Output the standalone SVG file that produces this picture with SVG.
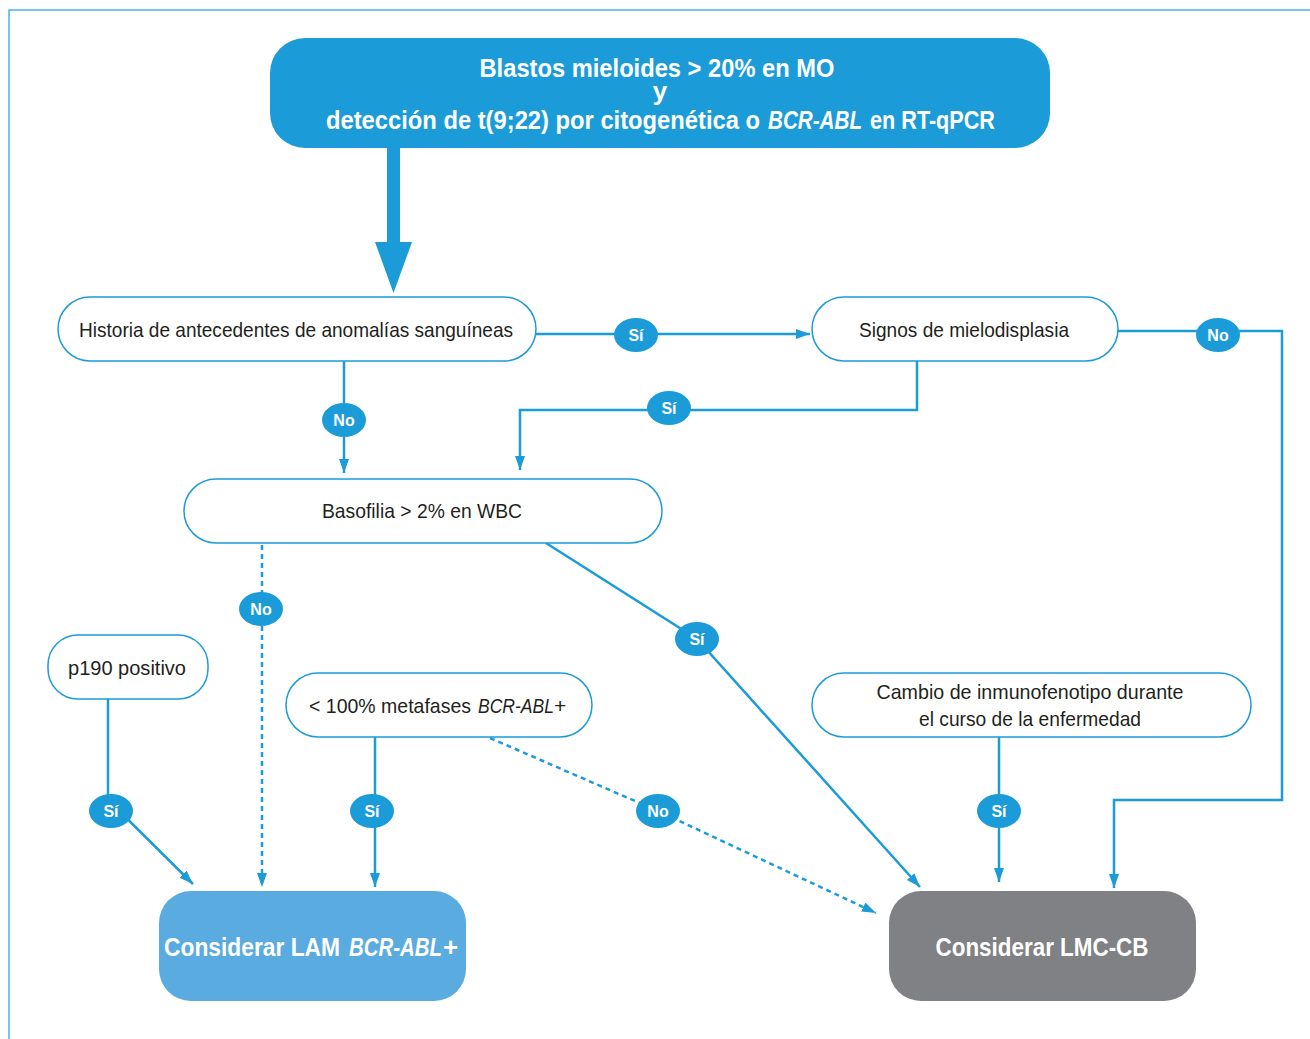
<svg xmlns="http://www.w3.org/2000/svg" width="1310" height="1039" viewBox="0 0 1310 1039">
<defs>
<style>
.node{fill:#fff;stroke:#1b9cd8;stroke-width:1.5}
.t{font-family:"Liberation Sans","DejaVu Sans",sans-serif;font-size:21px;fill:#231f20;text-anchor:middle}
.tb{font-family:"Liberation Sans","DejaVu Sans",sans-serif;font-size:26px;font-weight:bold;fill:#fff;text-anchor:middle}
.s{text-anchor:start}
.i{font-style:italic}
.c{fill:none;stroke:#1b9cd8;stroke-width:2.5}
.d{fill:none;stroke:#1b9cd8;stroke-width:2.5;stroke-dasharray:5 4}
.lb ellipse{fill:#1b9cd8}
.lb text{font-family:"Liberation Sans","DejaVu Sans",sans-serif;font-size:16px;font-weight:bold;fill:#fff;text-anchor:middle}
</style>
<marker id="ah" viewBox="0 0 14 10" refX="14" refY="5" markerWidth="14" markerHeight="10" markerUnits="userSpaceOnUse" orient="auto">
<path d="M0,0 L14,5 L0,10 z" fill="#1b9cd8"/>
</marker>
</defs>
<rect width="1310" height="1039" fill="#fff"/>
<path d="M9,1039 V10 H1310" fill="none" stroke="#4db0e6" stroke-width="1.5"/>

<g id="connectors">
<rect x="387" y="148" width="13" height="96" fill="#1b9cd8"/>
<path d="M375,242 L412,242 L393.5,293 z" fill="#1b9cd8"/>
<path class="c" d="M536,334 H810" marker-end="url(#ah)"/>
<path class="c" d="M1118,331 H1282 V800 H1114 V888" marker-end="url(#ah)" stroke-width="3"/>
<path class="c" d="M917,361 V410 H520 V470" marker-end="url(#ah)"/>
<path class="c" d="M344,361 V473" marker-end="url(#ah)"/>
<path class="d" d="M262,545 V887" marker-end="url(#ah)"/>
<path class="c" d="M546,543 L697,639 L920,887" marker-end="url(#ah)"/>
<path class="c" d="M108,699 V800 L193,884" marker-end="url(#ah)"/>
<path class="c" d="M375,737 V887" marker-end="url(#ah)"/>
<path class="d" d="M490,738 L658,811 L876,913" marker-end="url(#ah)"/>
<path class="c" d="M999,737 V882" marker-end="url(#ah)"/>
<g class="lb">
<ellipse cx="636" cy="335" rx="22" ry="17"/><text x="636" y="341">Sí</text>
<ellipse cx="1218" cy="335" rx="22" ry="17"/><text x="1218" y="341">No</text>
<ellipse cx="669" cy="408" rx="22" ry="17"/><text x="669" y="414">Sí</text>
<ellipse cx="344" cy="420" rx="22" ry="17"/><text x="344" y="426">No</text>
<ellipse cx="261" cy="609" rx="22" ry="17"/><text x="261" y="615">No</text>
<ellipse cx="697" cy="639" rx="22" ry="17"/><text x="697" y="645">Sí</text>
<ellipse cx="111" cy="811" rx="22" ry="17"/><text x="111" y="817">Sí</text>
<ellipse cx="372" cy="811" rx="22" ry="17"/><text x="372" y="817">Sí</text>
<ellipse cx="658" cy="811" rx="22" ry="17"/><text x="658" y="817">No</text>
<ellipse cx="999" cy="811" rx="22" ry="17"/><text x="999" y="817">Sí</text>
</g>
</g>

<g id="n-top">
<rect x="270" y="38" width="780" height="110" rx="35" fill="#1b9cd8"/>
<text class="tb" x="657" y="77" textLength="355" lengthAdjust="spacingAndGlyphs">Blastos mieloides &gt; 20% en MO</text>
<text class="tb" x="660" y="100">y</text>
<text class="tb s" x="326" y="129" textLength="434" lengthAdjust="spacingAndGlyphs">detección de t(9;22) por citogenética o</text>
<text class="tb s i" x="768" y="129" textLength="94" lengthAdjust="spacingAndGlyphs">BCR-ABL</text>
<text class="tb s" x="870" y="129" textLength="125" lengthAdjust="spacingAndGlyphs">en RT-qPCR</text>
</g>

<g id="n-historia">
<rect class="node" x="58" y="297" width="478" height="64" rx="32"/>
<text class="t" x="296" y="337" textLength="434" lengthAdjust="spacingAndGlyphs">Historia de antecedentes de anomalías sanguíneas</text>
</g>

<g id="n-signos">
<rect class="node" x="812" y="297" width="306" height="64" rx="32"/>
<text class="t" x="964" y="337" textLength="210" lengthAdjust="spacingAndGlyphs">Signos de mielodisplasia</text>
</g>

<g id="n-basofilia">
<rect class="node" x="184" y="479" width="478" height="64" rx="32"/>
<text class="t" x="422" y="518" textLength="200" lengthAdjust="spacingAndGlyphs">Basofilia &gt; 2% en WBC</text>
</g>

<g id="n-p190">
<rect class="node" x="48" y="635" width="160" height="64" rx="30"/>
<text class="t" x="127" y="675" textLength="118" lengthAdjust="spacingAndGlyphs">p190 positivo</text>
</g>

<g id="n-metafases">
<rect class="node" x="286" y="673" width="306" height="64" rx="32"/>
<text class="t s" x="309" y="713" textLength="162" lengthAdjust="spacingAndGlyphs">&lt; 100% metafases</text>
<text class="t s i" x="478" y="713" textLength="76" lengthAdjust="spacingAndGlyphs">BCR-ABL</text>
<text class="t s" x="554" y="713">+</text>
</g>

<g id="n-cambio">
<rect class="node" x="812" y="673" width="439" height="64" rx="32"/>
<text class="t" x="1030" y="699" textLength="307" lengthAdjust="spacingAndGlyphs">Cambio de inmunofenotipo durante</text>
<text class="t" x="1030" y="726" textLength="222" lengthAdjust="spacingAndGlyphs">el curso de la enfermedad</text>
</g>

<g id="n-lam">
<rect x="159" y="891" width="307" height="110" rx="32" fill="#5aabdf"/>
<text class="tb s" x="164" y="956" textLength="176" lengthAdjust="spacingAndGlyphs">Considerar LAM</text>
<text class="tb s i" x="349" y="956" textLength="93" lengthAdjust="spacingAndGlyphs">BCR-ABL</text>
<text class="tb s" x="443" y="956">+</text>
</g>

<g id="n-lmc">
<rect x="889" y="891" width="307" height="110" rx="32" fill="#808184"/>
<text class="tb" x="1042" y="956" textLength="213" lengthAdjust="spacingAndGlyphs">Considerar LMC-CB</text>
</g>
</svg>
